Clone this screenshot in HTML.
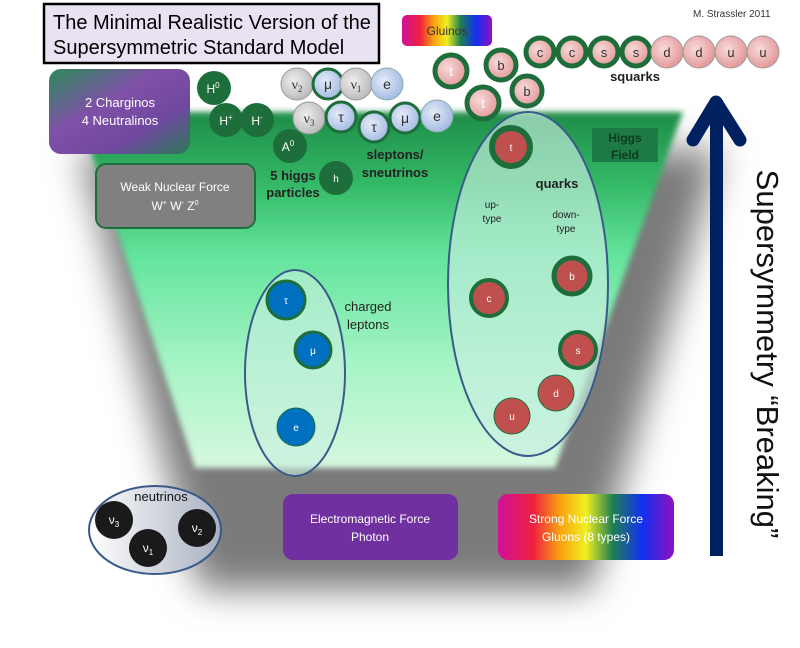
<!DOCTYPE html>
<html><head><meta charset="utf-8"><style>
html,body{margin:0;padding:0;background:#fff;}
svg text{font-family:"Liberation Sans",sans-serif;}
</style></head><body>
<svg width="800" height="643" viewBox="0 0 800 643" xmlns="http://www.w3.org/2000/svg">
<defs>
<filter id="blur" x="-20%" y="-20%" width="140%" height="140%"><feGaussianBlur stdDeviation="18"/></filter>
<filter id="blur2" x="-10%" y="-10%" width="120%" height="120%"><feGaussianBlur stdDeviation="3"/></filter>
<linearGradient id="green" x1="0" y1="0" x2="0" y2="1">
<stop offset="0" stop-color="#1f8c48"/><stop offset="0.2" stop-color="#33b866"/>
<stop offset="0.4" stop-color="#62e49c"/><stop offset="0.7" stop-color="#a4f4c4"/><stop offset="1" stop-color="#d6f8e0"/>
</linearGradient>
<linearGradient id="rainbow" x1="0" y1="0" x2="1" y2="0">
<stop offset="0" stop-color="#d0109a"/><stop offset="0.2" stop-color="#f02040"/><stop offset="0.35" stop-color="#f8a010"/>
<stop offset="0.5" stop-color="#f0f020"/><stop offset="0.65" stop-color="#208050"/><stop offset="0.82" stop-color="#1030f0"/><stop offset="1" stop-color="#9010c0"/>
</linearGradient>
<linearGradient id="chg" x1="0" y1="0" x2="1" y2="1">
<stop offset="0" stop-color="#2a8a58"/><stop offset="0.4" stop-color="#8050a8"/><stop offset="0.7" stop-color="#7048a0"/><stop offset="1" stop-color="#2a7a58"/>
</linearGradient>
<radialGradient id="pink" cx="0.4" cy="0.4" r="0.7"><stop offset="0" stop-color="#f8dada"/><stop offset="1" stop-color="#e09090"/></radialGradient>
<radialGradient id="lblue" cx="0.4" cy="0.4" r="0.7"><stop offset="0" stop-color="#e4ecf8"/><stop offset="1" stop-color="#9cb4e0"/></radialGradient>
<radialGradient id="gray" cx="0.4" cy="0.4" r="0.7"><stop offset="0" stop-color="#eeeeee"/><stop offset="1" stop-color="#b4b4b4"/></radialGradient>
<linearGradient id="neu" x1="0" y1="0" x2="1" y2="0"><stop offset="0" stop-color="#ffffff"/><stop offset="1" stop-color="#a8b0c0"/></linearGradient>
</defs>

<!-- shadow -->
<polygon points="80,150 720,150 590,590 200,590" fill="#7a7a7a" filter="url(#blur)"/>
<!-- green trapezoid -->
<polygon points="78,112 683,112 555,468 195,468" fill="url(#green)" filter="url(#blur2)"/>

<!-- title -->
<rect x="44" y="4" width="335" height="59" fill="#e8e2f2" stroke="#000" stroke-width="2.5"/>
<text x="53" y="29" font-size="20">The Minimal Realistic  Version of the</text>
<text x="53" y="54" font-size="20">Supersymmetric Standard Model</text>
<text x="693" y="17" font-size="10" fill="#333">M. Strassler  2011</text>

<!-- charginos -->
<rect x="49" y="69" width="141" height="85" rx="12" fill="url(#chg)"/>
<text x="120" y="107" font-size="13" fill="#fff" text-anchor="middle">2 Charginos</text>
<text x="120" y="125" font-size="13" fill="#fff" text-anchor="middle">4 Neutralinos</text>

<!-- higgs -->
<g fill="#1e6e3c"><circle cx="214" cy="88" r="17"/><circle cx="226" cy="120" r="17"/><circle cx="257" cy="120" r="17"/><circle cx="290" cy="146" r="17"/><circle cx="336" cy="178" r="17"/></g>
<g fill="#fff" font-size="12" text-anchor="middle">
<text x="213" y="93">H<tspan font-size="8" dy="-5">0</tspan></text>
<text x="226" y="125">H<tspan font-size="8" dy="-5">+</tspan></text>
<text x="257" y="125">H<tspan font-size="8" dy="-5">-</tspan></text>
<text x="288" y="151">A<tspan font-size="8" dy="-5">0</tspan></text>
<text x="336" y="182" font-size="10">h</text></g>
<text x="293" y="180" font-size="13" font-weight="bold" text-anchor="middle" fill="#222">5 higgs</text>
<text x="293" y="197" font-size="13" font-weight="bold" text-anchor="middle" fill="#222">particles</text>

<!-- weak -->
<rect x="96" y="164" width="159" height="64" rx="10" fill="#808080" stroke="#1e6e3c" stroke-width="2"/>
<text x="175" y="191" font-size="12" fill="#fff" text-anchor="middle">Weak Nuclear Force</text>
<text x="175" y="210" font-size="12" fill="#fff" text-anchor="middle">W<tspan font-size="7" dy="-5">+</tspan><tspan dy="5"> W</tspan><tspan font-size="7" dy="-5">-</tspan><tspan dy="5">       Z</tspan><tspan font-size="7" dy="-5">0</tspan></text>

<!-- sleptons -->
<g stroke-width="1">
<circle cx="297" cy="84" r="16" fill="url(#gray)" stroke="#999"/>
<circle cx="328" cy="84" r="15" fill="url(#lblue)" stroke="#1e6e3c" stroke-width="3"/>
<circle cx="356" cy="84" r="16" fill="url(#gray)" stroke="#999"/>
<circle cx="387" cy="84" r="16" fill="url(#lblue)" stroke="#8aa"/>
<circle cx="309" cy="118" r="16" fill="url(#gray)" stroke="#999"/>
<circle cx="341" cy="117" r="15" fill="url(#lblue)" stroke="#1e6e3c" stroke-width="3"/>
<circle cx="374" cy="127" r="15" fill="url(#lblue)" stroke="#1e6e3c" stroke-width="3"/>
<circle cx="405" cy="118" r="15" fill="url(#lblue)" stroke="#1e6e3c" stroke-width="3"/>
<circle cx="437" cy="116" r="16" fill="url(#lblue)" stroke="#8aa"/>
</g>
<g font-size="14" text-anchor="middle" fill="#333">
<text x="297" y="89" style="font-family:'Liberation Serif',serif">ν<tspan font-size="9" dy="3">2</tspan></text>
<text x="328" y="89">μ</text>
<text x="356" y="89" style="font-family:'Liberation Serif',serif">ν<tspan font-size="9" dy="3">1</tspan></text>
<text x="387" y="89">e</text>
<text x="309" y="123" style="font-family:'Liberation Serif',serif">ν<tspan font-size="9" dy="3">3</tspan></text>
<text x="341" y="122">τ</text>
<text x="374" y="132">τ</text>
<text x="405" y="123">μ</text>
<text x="437" y="121">e</text></g>
<text x="395" y="159" font-size="13" font-weight="bold" text-anchor="middle" fill="#222">sleptons/</text>
<text x="395" y="177" font-size="13" font-weight="bold" text-anchor="middle" fill="#222">sneutrinos</text>

<!-- gluinos -->
<rect x="402" y="15" width="90" height="31" rx="5" fill="url(#rainbow)"/>
<text x="447" y="35" font-size="12" text-anchor="middle" fill="#333">Gluinos</text>

<!-- stops/sbottoms -->
<g fill="url(#pink)" stroke="#1e6e3c" stroke-width="5">
<circle cx="451" cy="71" r="16"/><circle cx="483" cy="103" r="16"/><circle cx="501" cy="65" r="15"/><circle cx="527" cy="91" r="15"/>
<circle cx="540" cy="52" r="14"/><circle cx="572" cy="52" r="14"/><circle cx="604" cy="52" r="14"/><circle cx="636" cy="52" r="14"/></g>
<g fill="url(#pink)" stroke="#999" stroke-width="1">
<circle cx="667" cy="52" r="16"/><circle cx="699" cy="52" r="16"/><circle cx="731" cy="52" r="16"/><circle cx="763" cy="52" r="16"/></g>
<g font-size="13" text-anchor="middle" fill="#333">
<text x="451" y="76" fill="#fff">t</text><text x="483" y="108" fill="#fff">t</text>
<text x="501" y="70">b</text><text x="527" y="96">b</text>
<text x="540" y="57">c</text><text x="572" y="57">c</text><text x="604" y="57">s</text><text x="636" y="57">s</text>
<text x="667" y="57">d</text><text x="699" y="57">d</text><text x="731" y="57">u</text><text x="763" y="57">u</text></g>
<text x="635" y="81" font-size="13" font-weight="bold" text-anchor="middle" fill="#222">squarks</text>

<!-- higgs field -->
<rect x="592" y="128" width="66" height="34" fill="#1e7a44"/>
<text x="625" y="142" font-size="12" font-weight="bold" text-anchor="middle" fill="#0d3a1e">Higgs</text>
<text x="625" y="159" font-size="12" font-weight="bold" text-anchor="middle" fill="#0d3a1e">Field</text>

<!-- quarks ellipse -->
<ellipse cx="528" cy="284" rx="80" ry="172" fill="#c8eee0" fill-opacity="0.65" stroke="#3a5a8a" stroke-width="2"/>
<g fill="#c0504d" stroke="#1e6e3c">
<circle cx="511" cy="147" r="19" stroke-width="6"/>
<circle cx="489" cy="298" r="18" stroke-width="4"/>
<circle cx="572" cy="276" r="18" stroke-width="5"/>
<circle cx="578" cy="350" r="18" stroke-width="4"/>
<circle cx="556" cy="393" r="18" stroke-width="1"/>
<circle cx="512" cy="416" r="18" stroke-width="1"/></g>
<g font-size="10" text-anchor="middle" fill="#fff">
<text x="511" y="151">t</text><text x="489" y="302">c</text><text x="572" y="280">b</text><text x="578" y="354">s</text><text x="556" y="397">d</text><text x="512" y="420">u</text></g>
<text x="557" y="188" font-size="13" font-weight="bold" text-anchor="middle" fill="#222">quarks</text>
<text x="492" y="208" font-size="10" text-anchor="middle" fill="#222">up-</text>
<text x="492" y="222" font-size="10" text-anchor="middle" fill="#222">type</text>
<text x="566" y="218" font-size="10" text-anchor="middle" fill="#222">down-</text>
<text x="566" y="232" font-size="10" text-anchor="middle" fill="#222">type</text>

<!-- charged leptons -->
<ellipse cx="295" cy="373" rx="50" ry="103" fill="#c8eee0" fill-opacity="0.6" stroke="#3a5a8a" stroke-width="2"/>
<g fill="#0070c0" stroke="#1e6e3c">
<circle cx="286" cy="300" r="19" stroke-width="3"/>
<circle cx="313" cy="350" r="18" stroke-width="3"/>
<circle cx="296" cy="427" r="19" stroke-width="1"/></g>
<g font-size="10" text-anchor="middle" fill="#fff">
<text x="286" y="304">τ</text><text x="313" y="354">μ</text><text x="296" y="431">e</text></g>
<text x="368" y="311" font-size="13" text-anchor="middle" fill="#222">charged</text>
<text x="368" y="329" font-size="13" text-anchor="middle" fill="#222">leptons</text>

<!-- neutrinos -->
<ellipse cx="155" cy="530" rx="66" ry="44" fill="url(#neu)" stroke="#3a5a8a" stroke-width="2"/>
<g fill="#1a1a1a"><circle cx="114" cy="520" r="19"/><circle cx="148" cy="548" r="19"/><circle cx="197" cy="528" r="19"/></g>
<g font-size="12" fill="#fff" text-anchor="middle" style="font-family:'Liberation Serif',serif">
<text x="114" y="524">ν<tspan font-size="8" dy="3">3</tspan></text>
<text x="148" y="552">ν<tspan font-size="8" dy="3">1</tspan></text>
<text x="197" y="532">ν<tspan font-size="8" dy="3">2</tspan></text></g>
<text x="161" y="501" font-size="13" text-anchor="middle" fill="#111">neutrinos</text>

<!-- EM -->
<rect x="283" y="494" width="175" height="66" rx="10" fill="#7030a0"/>
<text x="370" y="523" font-size="12" text-anchor="middle" fill="#fff">Electromagnetic Force</text>
<text x="370" y="541" font-size="12" text-anchor="middle" fill="#fff">Photon</text>

<!-- strong -->
<rect x="498" y="494" width="176" height="66" rx="10" fill="url(#rainbow)"/>
<text x="586" y="523" font-size="12" text-anchor="middle" fill="#fff">Strong Nuclear Force</text>
<text x="586" y="541" font-size="12" text-anchor="middle" fill="#fff">Gluons (8 types)</text>

<!-- arrow -->
<rect x="710" y="100" width="13" height="456" fill="#002060"/>
<polyline points="693,140 716,102 740,140" fill="none" stroke="#002060" stroke-width="13" stroke-linecap="round" stroke-linejoin="round"/>
<text transform="translate(757,354) rotate(90)" font-size="31" text-anchor="middle" fill="#111">Supersymmetry “Breaking”</text>
</svg>
</body></html>
